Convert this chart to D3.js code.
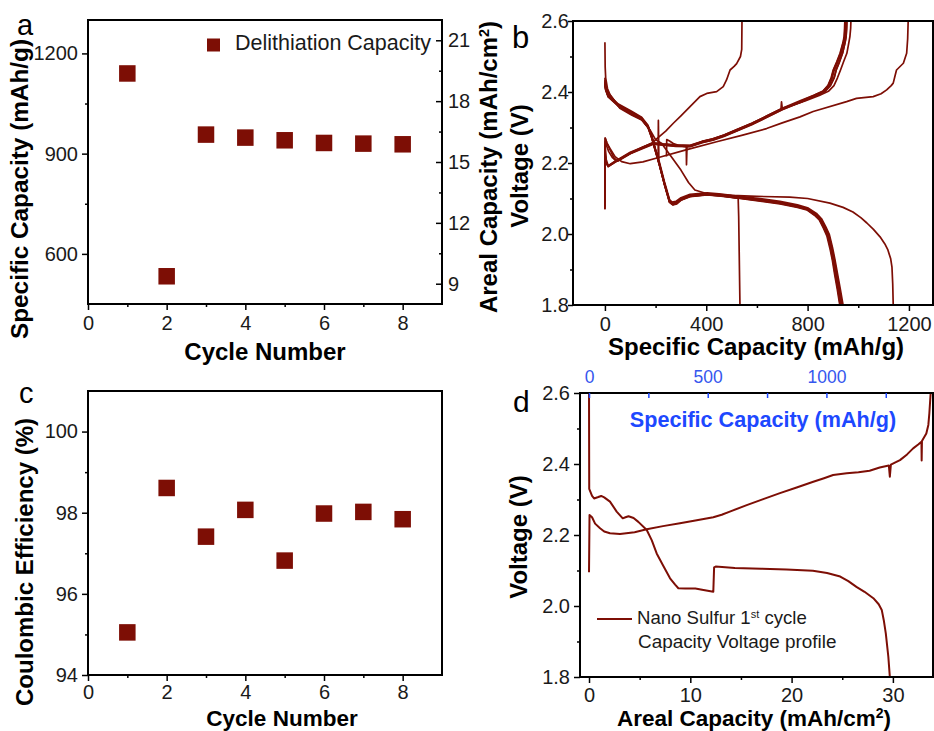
<!DOCTYPE html>
<html><head><meta charset="utf-8">
<script src="https://cdn.jsdelivr.net/npm/d3@7"></script>
<style>
body{margin:0;background:#fff;}
svg text{font-family:"Liberation Sans",Arial,Helvetica,sans-serif;}
</style></head><body>
<svg id="c" width="934" height="731"></svg>
<script>
// ---------- data ----------
const cycles=[1,2,3,4,5,6,7,8];
const delithCap=[1140,533,957,948,940,932,930,928];
const coulEff=[95.05,98.61,97.41,98.07,96.82,97.98,98.02,97.84];
const cycleTicks=[0,2,4,6,8], cycleMinor=[1,3,5,7];
const capTicks=[600,900,1200], capMinor=[750,1050];
const arealTicksA=[9,12,15,18,21], arealMinorA=[10.5,13.5,16.5,19.5];
const ceTicks=[94,96,98,100], ceMinor=[95,97,99];
const voltTicks=[1.8,2.0,2.2,2.4,2.6], voltMinor=[1.9,2.1,2.3,2.5];
const specTicksB=[0,400,800,1200], specMinorB=[200,600,1000];
const arealTicksD=[0,10,20,30], arealMinorD=[5,15,25];
const specTicksD=[0,500,1000], specMinorD=[250,750,1250];

// panel b : [specific capacity mAh/g, voltage V]
const dis1=[[0,2.54],[1,2.47],[3,2.44],[10,2.41],[20,2.392],[59,2.354],[105,2.335],[145,2.321],[178,2.293],[200,2.266],[224,2.255],[260,2.22],[300,2.18],[330,2.145],[355,2.124],[400,2.114],[500,2.109],[600,2.106],[730,2.104],[800,2.1],[888,2.087],[940,2.075],[979,2.062],[1010,2.046],[1034,2.031],[1060,2.013],[1086,1.992],[1105,1.972],[1117,1.955],[1128,1.93],[1133,1.907],[1136,1.86],[1138,1.8]];
const dis2=[[0,2.43],[2,2.415],[20,2.392],[59,2.356],[105,2.337],[145,2.323],[175,2.296],[190,2.262],[210,2.21],[235,2.14],[256,2.092],[270,2.083],[290,2.092],[330,2.106],[400,2.111],[480,2.106],[526,2.1],[528,2.05],[530,1.95],[533,1.8]];
const dis3=[[0,2.44],[3,2.415],[13,2.392],[53,2.366],[105,2.346],[145,2.329],[170,2.306],[185,2.276],[195,2.25],[205,2.225],[210,2.212],[211,2.32],[213,2.208],[235,2.147],[255,2.097],[265,2.09],[280,2.092],[300,2.102],[336,2.112],[403,2.116],[450,2.113],[533,2.106],[620,2.099],[691,2.092],[760,2.082],[800,2.074],[835,2.058],[855,2.043],[872,2.02],[886,1.998],[898,1.963],[908,1.928],[918,1.888],[929,1.845],[940,1.8]];
const dis4=[[0,2.435],[3,2.412],[13,2.39],[53,2.364],[105,2.344],[145,2.327],[170,2.304],[185,2.274],[195,2.248],[215,2.198],[235,2.143],[255,2.093],[265,2.086],[280,2.089],[300,2.099],[336,2.109],[403,2.114],[450,2.111],[533,2.104],[620,2.096],[691,2.089],[760,2.079],[797,2.072],[832,2.057],[851,2.044],[868,2.021],[883,1.999],[895,1.964],[905,1.929],[915,1.889],[925,1.848],[936,1.8]];
const dis5=[[0,2.43],[3,2.41],[13,2.389],[53,2.363],[105,2.343],[145,2.326],[170,2.303],[185,2.273],[195,2.247],[215,2.197],[235,2.142],[255,2.092],[265,2.085],[280,2.088],[300,2.098],[336,2.108],[403,2.113],[450,2.11],[533,2.103],[620,2.095],[691,2.088],[760,2.078],[797,2.071],[831,2.056],[850,2.043],[867,2.02],[881,1.998],[893,1.963],[903,1.928],[913,1.888],[923,1.848],[934,1.8]];
const dis6=[[0,2.425],[3,2.408],[13,2.388],[53,2.362],[105,2.342],[145,2.325],[170,2.302],[185,2.272],[195,2.246],[215,2.196],[235,2.141],[255,2.091],[267,2.084],[282,2.087],[300,2.097],[336,2.107],[403,2.112],[450,2.109],[533,2.102],[620,2.094],[691,2.087],[760,2.077],[797,2.07],[829,2.055],[848,2.042],[865,2.019],[879,1.997],[891,1.962],[901,1.927],[911,1.887],[921,1.847],[931,1.8]];
const dis7=[[0,2.425],[3,2.407],[13,2.387],[53,2.361],[105,2.341],[145,2.324],[170,2.301],[185,2.271],[195,2.245],[215,2.195],[235,2.14],[255,2.09],[267,2.083],[282,2.086],[300,2.096],[336,2.106],[403,2.111],[450,2.108],[533,2.101],[620,2.093],[691,2.086],[760,2.076],[797,2.069],[828,2.054],[847,2.041],[864,2.018],[878,1.996],[890,1.961],[900,1.926],[909,1.886],[919,1.846],[929,1.8]];
const dis8=[[0,2.42],[3,2.405],[13,2.386],[53,2.36],[105,2.34],[145,2.323],[170,2.3],[185,2.27],[195,2.244],[215,2.194],[235,2.139],[255,2.089],[268,2.082],[284,2.085],[300,2.095],[336,2.105],[403,2.11],[450,2.107],[533,2.1],[620,2.092],[691,2.085],[760,2.075],[797,2.068],[827,2.053],[846,2.04],[862,2.017],[876,1.995],[888,1.96],[898,1.925],[907,1.885],[917,1.845],[927,1.8]];

const chg1=[[0,2.09],[1,2.27],[8,2.256],[20,2.241],[40,2.218],[66,2.204],[100,2.198],[150,2.203],[205,2.214],[320,2.237],[441,2.26],[540,2.278],[638,2.297],[700,2.313],[770,2.33],[822,2.345],[954,2.373],[993,2.382],[1059,2.387],[1090,2.395],[1112,2.406],[1130,2.418],[1138,2.425],[1145,2.445],[1151,2.462],[1178,2.481],[1191,2.509],[1195,2.55],[1197,2.6]];
const chg2=[[0,2.1],[1,2.22],[5,2.2],[13,2.192],[40,2.204],[100,2.227],[150,2.245],[190,2.258],[204,2.268],[240,2.29],[270,2.312],[300,2.333],[336,2.359],[375,2.387],[402,2.396],[441,2.401],[467,2.415],[480,2.434],[494,2.462],[510,2.472],[520,2.48],[535,2.5],[540,2.52],[541,2.6]];
const chg3=[[243,2.218],[244,2.266],[255,2.262],[270,2.255],[290,2.25],[310,2.247],[321,2.246],[322,2.195],[324,2.246],[345,2.249],[388,2.262],[426,2.268],[470,2.279],[521,2.294],[580,2.312],[638,2.332],[700,2.354],[790,2.375],[846,2.39],[882,2.402],[904,2.418],[918,2.44],[930,2.462],[942,2.485],[955,2.509],[963,2.54],[967,2.556],[970,2.58],[971,2.6]];
const chg4=[[0,2.07],[1,2.23],[4,2.205],[13,2.19],[40,2.203],[100,2.228],[150,2.243],[191,2.255],[230,2.252],[280,2.249],[336,2.248],[388,2.26],[426,2.266],[470,2.277],[521,2.292],[580,2.31],[638,2.33],[700,2.352],[770,2.373],[823,2.39],[860,2.402],[880,2.418],[893,2.44],[901,2.462],[915,2.485],[928,2.509],[940,2.54],[944,2.556],[946,2.58],[947,2.6]];
const chg5=[[0,2.075],[1,2.25],[5,2.21],[13,2.192],[40,2.205],[100,2.23],[150,2.245],[191,2.257],[230,2.254],[280,2.251],[336,2.25],[388,2.262],[426,2.268],[470,2.279],[521,2.294],[580,2.312],[638,2.332],[695,2.352],[697,2.372],[700,2.354],[770,2.375],[825,2.391],[862,2.403],[882,2.419],[895,2.441],[903,2.463],[917,2.486],[930,2.51],[941,2.54],[946,2.557],[948,2.58],[949,2.6]];
const chg6=[[0,2.08],[1,2.27],[8,2.256],[20,2.238],[35,2.215],[50,2.205],[100,2.226],[150,2.241],[191,2.253],[230,2.25],[280,2.247],[336,2.246],[388,2.258],[426,2.264],[470,2.275],[521,2.29],[580,2.308],[638,2.328],[700,2.35],[770,2.371],[826,2.389],[864,2.401],[884,2.417],[897,2.439],[905,2.461],[919,2.484],[932,2.508],[943,2.54],[948,2.556],[950,2.58],[951,2.6]];
const chg7=[[0,2.07],[1,2.22],[4,2.2],[13,2.19],[40,2.202],[100,2.227],[150,2.242],[191,2.254],[230,2.251],[280,2.248],[336,2.247],[388,2.259],[426,2.265],[470,2.276],[521,2.291],[580,2.309],[638,2.329],[700,2.351],[780,2.373],[833,2.39],[870,2.402],[890,2.418],[905,2.44],[913,2.462],[926,2.485],[938,2.509],[948,2.54],[952,2.556],[954,2.58],[955,2.6]];
const chg8=[[0,2.08],[1,2.26],[6,2.25],[15,2.232],[30,2.215],[45,2.205],[100,2.229],[150,2.244],[191,2.256],[230,2.253],[280,2.25],[336,2.249],[388,2.261],[426,2.267],[470,2.278],[521,2.293],[580,2.311],[638,2.331],[700,2.353],[780,2.374],[833,2.391],[870,2.403],[890,2.419],[905,2.441],[913,2.463],[926,2.486],[938,2.51],[948,2.54],[952,2.557],[954,2.58],[955,2.6]];

// panel d : [areal capacity mAh/cm2, voltage V]
const nanoDischarge=[[0,2.6],[0.02,2.33],[0.3,2.31],[0.5,2.303],[0.92,2.307],[1.2,2.31],[1.5,2.306],[2.07,2.294],[2.73,2.266],[3.33,2.247],[3.6,2.25],[3.9,2.253],[4.4,2.248],[4.87,2.237],[5.7,2.214],[6.2,2.185],[6.68,2.148],[7.3,2.115],[8.0,2.078],[8.5,2.06],[8.82,2.05],[9.5,2.049],[10.5,2.049],[11.3,2.045],[12.27,2.04],[12.35,2.109],[12.5,2.111],[14.4,2.107],[17,2.105],[19.5,2.103],[22.1,2.099],[23.5,2.093],[24.8,2.083],[25.6,2.07],[26.4,2.054],[27.2,2.04],[28.07,2.022],[28.6,2.005],[28.9,1.989],[29.1,1.96],[29.3,1.923],[29.55,1.857],[29.7,1.8]];
const nanoCharge=[[0,2.095],[0.05,2.256],[0.3,2.25],[0.6,2.232],[1.09,2.219],[1.5,2.21],[2.07,2.205],[3.06,2.203],[4.5,2.208],[5.7,2.216],[7.3,2.225],[8.98,2.233],[10.5,2.241],[12.27,2.25],[13.1,2.257],[13.9,2.266],[15.57,2.284],[17.2,2.301],[18.85,2.318],[20.5,2.334],[22.14,2.35],[23.2,2.36],[24.1,2.369],[25.44,2.374],[26.6,2.377],[27.7,2.381],[28.7,2.39],[29.6,2.396],[29.7,2.364],[29.8,2.398],[30.7,2.411],[31.4,2.427],[32.0,2.444],[32.5,2.455],[32.82,2.463],[32.84,2.41],[32.87,2.465],[33.3,2.486],[33.5,2.51],[33.6,2.543],[33.73,2.6]];

const curvesB=[dis1,dis2,dis3,dis4,dis5,dis6,dis7,dis8,chg1,chg2,chg3,chg4,chg5,chg6,chg7,chg8];
const curvesD=[nanoDischarge,nanoCharge];

// ---------- drawing ----------
const FONT='"Liberation Sans",Arial,Helvetica,sans-serif';
const RED="#7d0e05", BLUE="#1d48ff", BLUE2="#3556ee";
const svg=d3.select("#c");
const defs=svg.append("defs");
const fInt=d3.format("d"), f1=d3.format(".1f");

function frame(x0,y0,x1,y1){
  svg.append("rect").attr("x",x0).attr("y",y0).attr("width",x1-x0).attr("height",y1-y0)
    .attr("fill","none").attr("stroke","#000").attr("stroke-width",2);
}
function axis(gen,tr,o={}){
  const g=svg.append("g").attr("transform",tr).call(gen)
    .attr("font-family",FONT).attr("font-size",o.fs||20);
  g.select(".domain").remove();
  g.selectAll(".tick line").attr("stroke",o.color||"#000").attr("stroke-width",1.5);
  g.selectAll(".tick text").attr("fill",o.tcolor||"#1a1a1a");
  return g;
}
function text(x,y,s,o={}){
  const t=svg.append("text").attr("x",x).attr("y",y).attr("font-family",FONT)
    .attr("font-size",o.fs||24).attr("font-weight",o.bold?"bold":"normal")
    .attr("fill",o.fill||"#000").attr("text-anchor",o.anchor||"start").text(s);
  return t;
}
function vtext(x,y,parts,o={}){
  const t=svg.append("text").attr("transform",`translate(${x},${y}) rotate(-90)`)
    .attr("font-family",FONT).attr("font-size",o.fs||24).attr("font-weight","bold")
    .attr("text-anchor","middle").attr("fill","#000");
  if(o.len) t.attr("textLength",o.len).attr("lengthAdjust","spacingAndGlyphs");
  parts.forEach(p=>{
    const s=t.append("tspan").text(p.t);
    if(p.sup) s.attr("baseline-shift","super").attr("font-size",(o.fs||24)*0.6);
  });
  return t;
}

// ===== Panel a =====
const xA=d3.scaleLinear([0,9],[88,442]);
const yA=d3.scaleLinear([450,1300],[304,20]);
const yA2=d3.scaleLinear([8,22],[304,20]);
const MS=16.5;
svg.append("g").selectAll("rect").data(cycles).join("rect")
  .attr("x",(d)=>xA(d)-MS/2).attr("y",(d,i)=>yA(delithCap[i])-MS/2)
  .attr("width",MS).attr("height",MS).attr("fill",RED);
frame(88,20,442,304);
axis(d3.axisBottom(xA).tickValues(cycleTicks).tickSize(6).tickPadding(6).tickFormat(fInt),"translate(0,304)");
axis(d3.axisBottom(xA).tickValues(cycleMinor).tickSize(3).tickFormat(""),"translate(0,304)");
axis(d3.axisLeft(yA).tickValues(capTicks).tickSize(6).tickPadding(4).tickFormat(fInt),"translate(88,0)");
axis(d3.axisLeft(yA).tickValues(capMinor).tickSize(3).tickFormat(""),"translate(88,0)");
axis(d3.axisRight(yA2).tickValues(arealTicksA).tickSize(-6).tickPadding(6).tickFormat(fInt),"translate(442,0)");
axis(d3.axisRight(yA2).tickValues(arealMinorA).tickSize(-3).tickFormat(""),"translate(442,0)");
svg.append("rect").attr("x",207).attr("y",38.5).attr("width",13).attr("height",13).attr("fill",RED);
text(235,50,"Delithiation Capacity",{fs:21.5,fill:"#1a1a1a"});
text(265,360,"Cycle Number",{bold:true,anchor:"middle"});
vtext(28,189,[{t:"Specific Capacity (mAh/g)"}],{len:300});
vtext(497,167,[{t:"Areal Capacity (mAh/cm"},{t:"2",sup:true},{t:")"}]);
text(17,35,"a",{fs:29});

// ===== Panel b =====
const xB=d3.scaleLinear([-126,1295],[573,933]);
const yB=d3.scaleLinear([1.8,2.6],[305,21]);
defs.append("clipPath").attr("id","clipB").append("rect").attr("x",573).attr("y",21).attr("width",360).attr("height",284);
const lineB=d3.line().x(d=>xB(d[0])).y(d=>yB(d[1]));
svg.append("g").attr("clip-path","url(#clipB)").selectAll("path").data(curvesB).join("path")
  .attr("d",lineB).attr("fill","none").attr("stroke",RED).attr("stroke-width",1.7).attr("stroke-linejoin","round");
frame(573,21,933,305);
axis(d3.axisBottom(xB).tickValues(specTicksB).tickSize(6).tickPadding(6).tickFormat(fInt),"translate(0,305)");
axis(d3.axisBottom(xB).tickValues(specMinorB).tickSize(3).tickFormat(""),"translate(0,305)");
axis(d3.axisLeft(yB).tickValues(voltTicks).tickSize(5).tickPadding(-1).tickFormat(f1),"translate(573,0)");
axis(d3.axisLeft(yB).tickValues(voltMinor).tickSize(3).tickFormat(""),"translate(573,0)");
text(756,355,"Specific Capacity (mAh/g)",{bold:true,anchor:"middle"});
vtext(528,166,[{t:"Voltage (V)"}]);
text(512,48,"b",{fs:31});

// ===== Panel c =====
const xC=d3.scaleLinear([0,9],[88,442]);
const yC=d3.scaleLinear([94,101],[675,391]);
svg.append("g").selectAll("rect").data(cycles).join("rect")
  .attr("x",(d)=>xC(d)-MS/2).attr("y",(d,i)=>yC(coulEff[i])-MS/2)
  .attr("width",MS).attr("height",MS).attr("fill",RED);
frame(88,391,442,675);
axis(d3.axisBottom(xC).tickValues(cycleTicks).tickSize(6).tickPadding(4).tickFormat(fInt),"translate(0,675)");
axis(d3.axisBottom(xC).tickValues(cycleMinor).tickSize(3).tickFormat(""),"translate(0,675)");
axis(d3.axisLeft(yC).tickValues(ceTicks).tickSize(6).tickPadding(4).tickFormat(fInt),"translate(88,0)");
axis(d3.axisLeft(yC).tickValues(ceMinor).tickSize(3).tickFormat(""),"translate(88,0)");
text(282,726,"Cycle Number",{bold:true,anchor:"middle",fs:22.5});
vtext(33,562,[{t:"Coulombic Efficiency (%)"}]);
text(19,403,"c",{fs:29});

// ===== Panel d =====
const xD=d3.scaleLinear([-0.89,33.96],[580,933]);
const xDt=d3.scaleLinear([-38,1449],[580,933]);
const yD=d3.scaleLinear([1.8,2.6],[677,393]);
defs.append("clipPath").attr("id","clipD").append("rect").attr("x",580).attr("y",393).attr("width",353).attr("height",284);
const lineD=d3.line().x(d=>xD(d[0])).y(d=>yD(d[1]));
svg.append("g").attr("clip-path","url(#clipD)").selectAll("path").data(curvesD).join("path")
  .attr("d",lineD).attr("fill","none").attr("stroke",RED).attr("stroke-width",2).attr("stroke-linejoin","round");
frame(580,393,933,677);
axis(d3.axisBottom(xD).tickValues(arealTicksD).tickSize(6).tickPadding(5).tickFormat(fInt),"translate(0,677)");
axis(d3.axisBottom(xD).tickValues(arealMinorD).tickSize(3).tickFormat(""),"translate(0,677)");
axis(d3.axisLeft(yD).tickValues(voltTicks).tickSize(6).tickPadding(4).tickFormat(f1),"translate(580,0)");
axis(d3.axisLeft(yD).tickValues(voltMinor).tickSize(3).tickFormat(""),"translate(580,0)");
axis(d3.axisTop(xDt).tickValues(specTicksD).tickSize(-5).tickPadding(10).tickFormat(fInt),"translate(0,393)",{fs:17.5,color:BLUE,tcolor:BLUE2});
axis(d3.axisTop(xDt).tickValues(specMinorD).tickSize(-5).tickFormat(""),"translate(0,393)",{color:BLUE});
text(763,427,"Specific Capacity (mAh/g)",{bold:true,anchor:"middle",fs:21.6,fill:BLUE});
svg.append("line").attr("x1",597).attr("x2",632).attr("y1",619).attr("y2",619).attr("stroke",RED).attr("stroke-width",2);
const lg=text(637,624,"",{fs:18.6,fill:"#1a1a1a"});
lg.append("tspan").text("Nano Sulfur 1");
lg.append("tspan").attr("baseline-shift","super").attr("font-size",11).text("st");
lg.append("tspan").text(" cycle");
text(638,648,"Capacity Voltage profile",{fs:18.9,fill:"#1a1a1a"});
const xt=text(754,726,"",{bold:true,anchor:"middle",fs:22.5});
xt.append("tspan").text("Areal Capacity (mAh/cm");
xt.append("tspan").attr("baseline-shift","super").attr("font-size",14).text("2");
xt.append("tspan").text(")");
vtext(527,537,[{t:"Voltage (V)"}]);
text(513,412,"d",{fs:30});
</script>
</body></html>
